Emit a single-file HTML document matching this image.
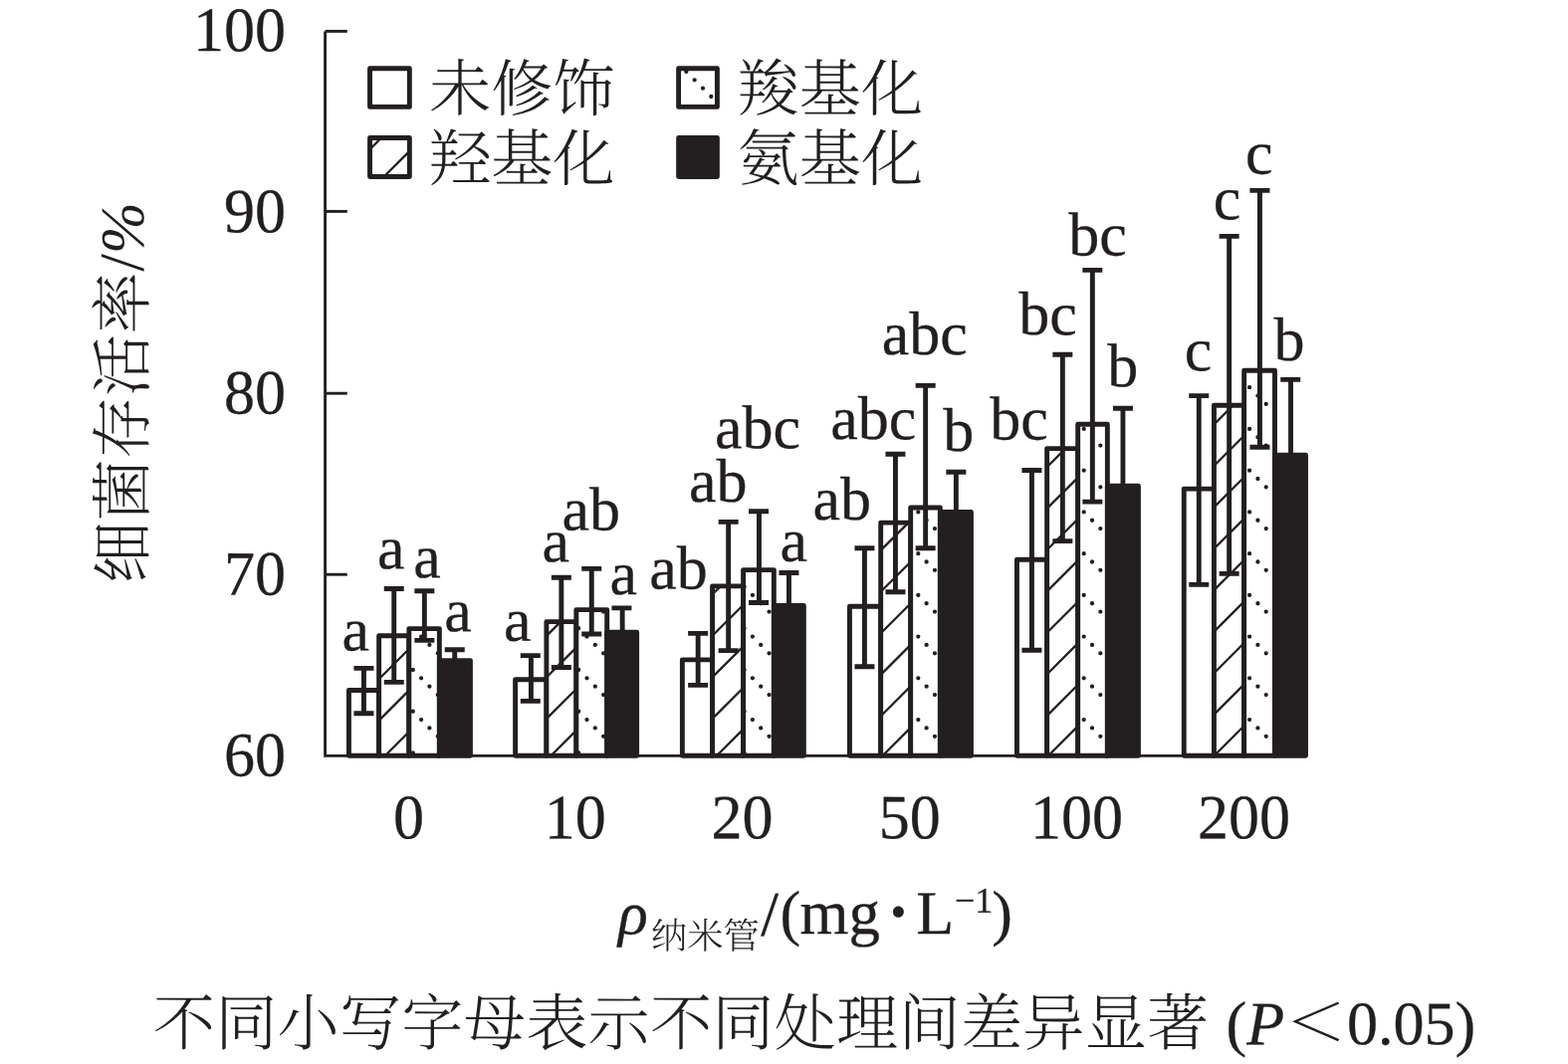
<!DOCTYPE html>
<html lang="zh-CN">
<head>
<meta charset="utf-8">
<title>细菌存活率</title>
<style>
html,body{margin:0;padding:0;background:#fff;}
body{width:1575px;height:1069px;overflow:hidden;font-family:'Liberation Serif','Noto Serif CJK SC',serif;}
svg{display:block;}
text{text-rendering:geometricPrecision;}
</style>
</head>
<body>
<svg width="1575" height="1069" viewBox="0 0 1575 1069" role="img" aria-label="细菌存活率柱状图">
<rect width="1575" height="1069" fill="#fff"/>
<g stroke="#231f20" stroke-width="2.9" fill="none">
<path d="M326.6 31.4V759.4H1313"/>
<path d="M326.6 31.4H348.8"/>
<path d="M326.6 212.4H348.8"/>
<path d="M326.6 395.2H348.8"/>
<path d="M326.6 577.2H348.8"/>
</g>
<rect x="350.45" y="693.5" width="30.2" height="65.8" fill="#fff" stroke="#231f20" stroke-width="4.9" stroke-linejoin="round"/>
<rect x="380.65" y="638.8" width="30.2" height="120.5" fill="#fff"/>
<path d="M380.65 640.57L382.42 638.8M380.65 682.21L410.85 652.01M380.65 723.85L410.85 693.65M386.84 759.3L410.85 735.29" stroke="#231f20" stroke-width="2.3" fill="none"/>
<rect x="380.65" y="638.8" width="30.2" height="120.5" fill="none" stroke="#231f20" stroke-width="4.9" stroke-linejoin="round"/>
<rect x="410.85" y="631.6" width="30.5" height="127.7" fill="#fff"/>
<path d="M414.78 673.01h0M414.78 714.75h0M414.78 756.49h0M423.1 639.62h0M423.1 681.36h0M423.1 723.1h0M431.42 647.97h0M431.42 689.71h0M431.42 731.45h0M439.74 656.32h0M439.74 698.06h0M439.74 739.8h0" stroke="#231f20" stroke-width="4.3" stroke-linecap="round" fill="none"/>
<rect x="410.85" y="631.6" width="30.5" height="127.7" fill="none" stroke="#231f20" stroke-width="4.9" stroke-linejoin="round"/>
<rect x="441.35" y="663.6" width="31.1" height="95.7" fill="#231f20" stroke="#231f20" stroke-width="4.9" stroke-linejoin="round"/>
<rect x="517.6" y="682.7" width="31.3" height="76.6" fill="#fff" stroke="#231f20" stroke-width="4.9" stroke-linejoin="round"/>
<rect x="548.9" y="624.6" width="29.95" height="134.7" fill="#fff"/>
<path d="M548.9 638.88L563.18 624.6M548.9 680.52L578.85 650.57M548.9 722.16L578.85 692.21M553.4 759.3L578.85 733.85" stroke="#231f20" stroke-width="2.3" fill="none"/>
<rect x="548.9" y="624.6" width="29.95" height="134.7" fill="none" stroke="#231f20" stroke-width="4.9" stroke-linejoin="round"/>
<rect x="578.85" y="612.6" width="30.85" height="146.7" fill="#fff"/>
<path d="M581.18 631.27h0M581.18 673.01h0M581.18 714.75h0M581.18 756.49h0M589.5 639.62h0M589.5 681.36h0M589.5 723.1h0M597.82 647.97h0M597.82 689.71h0M597.82 731.45h0M606.14 614.58h0M606.14 656.32h0M606.14 698.06h0M606.14 739.8h0" stroke="#231f20" stroke-width="4.3" stroke-linecap="round" fill="none"/>
<rect x="578.85" y="612.6" width="30.85" height="146.7" fill="none" stroke="#231f20" stroke-width="4.9" stroke-linejoin="round"/>
<rect x="609.7" y="635.3" width="29.95" height="124" fill="#231f20" stroke="#231f20" stroke-width="4.9" stroke-linejoin="round"/>
<rect x="685.35" y="662.9" width="30.2" height="96.4" fill="#fff" stroke="#231f20" stroke-width="4.9" stroke-linejoin="round"/>
<rect x="715.55" y="588.9" width="31.05" height="170.4" fill="#fff"/>
<path d="M715.55 597.15L723.8 588.9M715.55 638.79L746.6 607.74M715.55 680.43L746.6 649.38M715.55 722.07L746.6 691.02M719.96 759.3L746.6 732.66" stroke="#231f20" stroke-width="2.3" fill="none"/>
<rect x="715.55" y="588.9" width="31.05" height="170.4" fill="none" stroke="#231f20" stroke-width="4.9" stroke-linejoin="round"/>
<rect x="746.6" y="572.6" width="30.75" height="186.7" fill="#fff"/>
<path d="M747.58 589.53h0M747.58 631.27h0M747.58 673.01h0M747.58 714.75h0M747.58 756.49h0M755.9 597.88h0M755.9 639.62h0M755.9 681.36h0M755.9 723.1h0M764.22 606.23h0M764.22 647.97h0M764.22 689.71h0M764.22 731.45h0M772.54 572.84h0M772.54 614.58h0M772.54 656.32h0M772.54 698.06h0M772.54 739.8h0" stroke="#231f20" stroke-width="4.3" stroke-linecap="round" fill="none"/>
<rect x="746.6" y="572.6" width="30.75" height="186.7" fill="none" stroke="#231f20" stroke-width="4.9" stroke-linejoin="round"/>
<rect x="777.35" y="608.4" width="30" height="150.9" fill="#231f20" stroke="#231f20" stroke-width="4.9" stroke-linejoin="round"/>
<rect x="853.45" y="609.3" width="31.25" height="150" fill="#fff" stroke="#231f20" stroke-width="4.9" stroke-linejoin="round"/>
<rect x="884.7" y="525.1" width="30" height="234.2" fill="#fff"/>
<path d="M884.7 552.92L912.52 525.1M884.7 594.56L914.7 564.56M884.7 636.2L914.7 606.2M884.7 677.84L914.7 647.84M884.7 719.48L914.7 689.48M886.52 759.3L914.7 731.12" stroke="#231f20" stroke-width="2.3" fill="none"/>
<rect x="884.7" y="525.1" width="30" height="234.2" fill="none" stroke="#231f20" stroke-width="4.9" stroke-linejoin="round"/>
<rect x="914.7" y="510" width="29.65" height="249.3" fill="#fff"/>
<path d="M922.3 514.4h0M922.3 556.14h0M922.3 597.88h0M922.3 639.62h0M922.3 681.36h0M922.3 723.1h0M930.62 522.75h0M930.62 564.49h0M930.62 606.23h0M930.62 647.97h0M930.62 689.71h0M930.62 731.45h0M938.94 531.1h0M938.94 572.84h0M938.94 614.58h0M938.94 656.32h0M938.94 698.06h0M938.94 739.8h0" stroke="#231f20" stroke-width="4.3" stroke-linecap="round" fill="none"/>
<rect x="914.7" y="510" width="29.65" height="249.3" fill="none" stroke="#231f20" stroke-width="4.9" stroke-linejoin="round"/>
<rect x="944.35" y="514.4" width="31.1" height="244.9" fill="#231f20" stroke="#231f20" stroke-width="4.9" stroke-linejoin="round"/>
<rect x="1021.45" y="562.2" width="30.2" height="197.1" fill="#fff" stroke="#231f20" stroke-width="4.9" stroke-linejoin="round"/>
<rect x="1051.65" y="450.6" width="31.05" height="308.7" fill="#fff"/>
<path d="M1051.65 469.25L1070.3 450.6M1051.65 510.89L1082.7 479.84M1051.65 552.53L1082.7 521.48M1051.65 594.17L1082.7 563.12M1051.65 635.81L1082.7 604.76M1051.65 677.45L1082.7 646.4M1051.65 719.09L1082.7 688.04M1053.08 759.3L1082.7 729.68" stroke="#231f20" stroke-width="2.3" fill="none"/>
<rect x="1051.65" y="450.6" width="31.05" height="308.7" fill="none" stroke="#231f20" stroke-width="4.9" stroke-linejoin="round"/>
<rect x="1082.7" y="426.2" width="29.65" height="333.1" fill="#fff"/>
<path d="M1088.7 430.92h0M1088.7 472.66h0M1088.7 514.4h0M1088.7 556.14h0M1088.7 597.88h0M1088.7 639.62h0M1088.7 681.36h0M1088.7 723.1h0M1097.02 439.27h0M1097.02 481.01h0M1097.02 522.75h0M1097.02 564.49h0M1097.02 606.23h0M1097.02 647.97h0M1097.02 689.71h0M1097.02 731.45h0M1105.34 447.62h0M1105.34 489.36h0M1105.34 531.1h0M1105.34 572.84h0M1105.34 614.58h0M1105.34 656.32h0M1105.34 698.06h0M1105.34 739.8h0" stroke="#231f20" stroke-width="4.3" stroke-linecap="round" fill="none"/>
<rect x="1082.7" y="426.2" width="29.65" height="333.1" fill="none" stroke="#231f20" stroke-width="4.9" stroke-linejoin="round"/>
<rect x="1112.35" y="488.2" width="31.1" height="271.1" fill="#231f20" stroke="#231f20" stroke-width="4.9" stroke-linejoin="round"/>
<rect x="1189.25" y="491.1" width="30.2" height="268.2" fill="#fff" stroke="#231f20" stroke-width="4.9" stroke-linejoin="round"/>
<rect x="1219.45" y="407.3" width="30.2" height="352" fill="#fff"/>
<path d="M1219.45 426.37L1238.52 407.3M1219.45 468.01L1249.65 437.81M1219.45 509.65L1249.65 479.45M1219.45 551.29L1249.65 521.09M1219.45 592.93L1249.65 562.73M1219.45 634.57L1249.65 604.37M1219.45 676.21L1249.65 646.01M1219.45 717.85L1249.65 687.65M1219.64 759.3L1249.65 729.29" stroke="#231f20" stroke-width="2.3" fill="none"/>
<rect x="1219.45" y="407.3" width="30.2" height="352" fill="none" stroke="#231f20" stroke-width="4.9" stroke-linejoin="round"/>
<rect x="1249.65" y="372.2" width="30.85" height="387.1" fill="#fff"/>
<path d="M1255.1 389.18h0M1255.1 430.92h0M1255.1 472.66h0M1255.1 514.4h0M1255.1 556.14h0M1255.1 597.88h0M1255.1 639.62h0M1255.1 681.36h0M1255.1 723.1h0M1263.42 397.53h0M1263.42 439.27h0M1263.42 481.01h0M1263.42 522.75h0M1263.42 564.49h0M1263.42 606.23h0M1263.42 647.97h0M1263.42 689.71h0M1263.42 731.45h0M1271.74 405.88h0M1271.74 447.62h0M1271.74 489.36h0M1271.74 531.1h0M1271.74 572.84h0M1271.74 614.58h0M1271.74 656.32h0M1271.74 698.06h0M1271.74 739.8h0M1280.06 372.48h0M1280.06 414.22h0M1280.06 455.96h0M1280.06 497.7h0M1280.06 539.44h0M1280.06 581.18h0M1280.06 622.92h0M1280.06 664.66h0M1280.06 706.4h0M1280.06 748.14h0" stroke="#231f20" stroke-width="4.3" stroke-linecap="round" fill="none"/>
<rect x="1249.65" y="372.2" width="30.85" height="387.1" fill="none" stroke="#231f20" stroke-width="4.9" stroke-linejoin="round"/>
<rect x="1280.5" y="457.3" width="31.05" height="302" fill="#231f20" stroke="#231f20" stroke-width="4.9" stroke-linejoin="round"/>
<g stroke="#231f20" stroke-width="4.9" fill="none">
<path d="M355.45 671.4H375.45M365.45 671.4V716.7M355.45 716.7H375.45"/>
<path d="M385.75 591.5H405.75M395.75 591.5V685.4M385.75 685.4H405.75"/>
<path d="M416.35 593.7H436.35M426.35 593.7V643.4M416.35 643.4H436.35"/>
<path d="M446.75 652.7H466.75M456.75 652.7V674.5M446.75 674.5H466.75"/>
<path d="M522.8 658.6H542.8M533.4 658.6V704.4M522.8 704.4H542.8"/>
<path d="M553.85 580.2H573.85M563.85 580.2V670.5M553.85 670.5H573.85"/>
<path d="M584.25 571.4H604.25M594.25 571.4V637M584.25 637H604.25"/>
<path d="M614.45 610.9H634.45M625.15 610.9V660M614.45 660H634.45"/>
<path d="M691.15 636.4H711.15M701.15 636.4V688.4M691.15 688.4H711.15"/>
<path d="M721.65 524.4H741.65M731.65 524.4V653.6M721.65 653.6H741.65"/>
<path d="M752.05 513.7H772.05M762.45 513.7V605.5M752.05 605.5H772.05"/>
<path d="M782.45 575.5H802.45M792.45 575.5V641M782.45 641H802.45"/>
<path d="M858.45 550.8H878.45M868.45 550.8V669.7M858.45 669.7H878.45"/>
<path d="M889.45 456.3H909.45M899.45 456.3V594.7M889.45 594.7H909.45"/>
<path d="M919.65 387.4H939.65M929.65 387.4V550.8M919.65 550.8H939.65"/>
<path d="M950.35 474.3H970.35M960.35 474.3V555M950.35 555H970.35"/>
<path d="M1026.45 472.5H1046.45M1036.45 472.5V653.2M1026.45 653.2H1046.45"/>
<path d="M1057.35 356.3H1077.35M1067.35 356.3V543.6M1057.35 543.6H1077.35"/>
<path d="M1087.35 271.4H1107.35M1097.35 271.4V504.1M1087.35 504.1H1107.35"/>
<path d="M1117.95 410.3H1137.95M1127.95 410.3V566M1117.95 566H1137.95"/>
<path d="M1194.25 397.6H1214.25M1204.25 397.6V587.4M1194.25 587.4H1214.25"/>
<path d="M1224.65 237.4H1244.65M1234.65 237.4V576.4M1224.65 576.4H1244.65"/>
<path d="M1255.45 191.4H1275.45M1265.45 191.4V449.2M1255.45 449.2H1275.45"/>
<path d="M1286.25 381.4H1306.25M1296.55 381.4V533M1286.25 533H1306.25"/>
</g>
<rect x="371.55" y="68.7" width="39.8" height="38.7" fill="#fff" stroke="#231f20" stroke-width="4.9" stroke-linejoin="round"/>
<rect x="371.55" y="138.5" width="39.8" height="39" fill="#fff"/>
<path d="M371.55 149.99L383.04 138.5M385.68 177.5L411.35 151.83" stroke="#231f20" stroke-width="2.3" fill="none"/>
<rect x="371.55" y="138.5" width="39.8" height="39" fill="none" stroke="#231f20" stroke-width="4.9" stroke-linejoin="round"/>
<rect x="681.6" y="68.7" width="38.8" height="38.7" fill="#fff"/>
<path d="M689.34 71.96h0M697.66 80.3h0M705.98 88.65h0M714.3 97h0" stroke="#231f20" stroke-width="4.3" stroke-linecap="round" fill="none"/>
<rect x="681.6" y="68.7" width="38.8" height="38.7" fill="none" stroke="#231f20" stroke-width="4.9" stroke-linejoin="round"/>
<rect x="681.6" y="138.5" width="38.8" height="39" fill="#231f20" stroke="#231f20" stroke-width="4.9" stroke-linejoin="round"/>
<g fill="#231f20" font-family="'Liberation Serif','Noto Serif CJK SC',serif" font-size="62" stroke="#231f20" stroke-width="0.3" stroke-linejoin="round">
<text transform="translate(287 51.2) rotate(0.05) scale(1 1.02)" text-anchor="end">100</text>
<text transform="translate(287 233.2) rotate(0.05) scale(1 1.02)" text-anchor="end">90</text>
<text transform="translate(287 415.5) rotate(0.05) scale(1 1.02)" text-anchor="end">80</text>
<text transform="translate(287 597.5) rotate(0.05) scale(1 1.02)" text-anchor="end">70</text>
<text transform="translate(287 779.6) rotate(0.05) scale(1 1.02)" text-anchor="end">60</text>
<text transform="translate(410.4 842.2) rotate(0.05) scale(1 1.02)" text-anchor="middle">0</text>
<text transform="translate(577.7 842.2) rotate(0.05) scale(1 1.02)" text-anchor="middle">10</text>
<text transform="translate(745.6 842.2) rotate(0.05) scale(1 1.02)" text-anchor="middle">20</text>
<text transform="translate(913.7 842.2) rotate(0.05) scale(1 1.02)" text-anchor="middle">50</text>
<text transform="translate(1081.4 842.2) rotate(0.05) scale(1 1.02)" text-anchor="middle">100</text>
<text transform="translate(1249.4 842.2) rotate(0.05) scale(1 1.02)" text-anchor="middle">200</text>
<text transform="translate(343.5 653.5) rotate(0.05)">a</text>
<text transform="translate(379 571.2) rotate(0.05)">a</text>
<text transform="translate(415.2 580.3) rotate(0.05)">a</text>
<text transform="translate(446.3 634.2) rotate(0.05)">a</text>
<text transform="translate(506 643.7) rotate(0.05)">a</text>
<text transform="translate(544.4 564.3) rotate(0.05)">a</text>
<text transform="translate(564.4 532.4) rotate(0.05)">ab</text>
<text transform="translate(612.5 597) rotate(0.05)">a</text>
<text transform="translate(652.3 591.6) rotate(0.05)">ab</text>
<text transform="translate(692.1 504) rotate(0.05)">ab</text>
<text transform="translate(718 450.3) rotate(0.05)">abc</text>
<text transform="translate(783.4 563.8) rotate(0.05)">a</text>
<text transform="translate(816.4 522) rotate(0.05)">ab</text>
<text transform="translate(834.3 441.1) rotate(0.05)">abc</text>
<text transform="translate(885.75 356) rotate(0.05)">abc</text>
<text transform="translate(947.3 452.9) rotate(0.05)">b</text>
<text transform="translate(994.2 441.4) rotate(0.05)">bc</text>
<text transform="translate(1023.3 336.1) rotate(0.05)">bc</text>
<text transform="translate(1073.3 256.5) rotate(0.05)">bc</text>
<text transform="translate(1112.2 388.2) rotate(0.05)">b</text>
<text transform="translate(1189.8 372.3) rotate(0.05)">c</text>
<text transform="translate(1218.7 220.2) rotate(0.05)">c</text>
<text transform="translate(1250.9 174.4) rotate(0.05)">c</text>
<text transform="translate(1279.6 362) rotate(0.05)">b</text>
</g>
<g fill="#231f20" font-family="'Noto Serif CJK SC','Liberation Serif',serif" font-size="62.2" font-weight="300">
<text transform="translate(431 111.1) rotate(0.05)">未修饰</text>
<text transform="translate(431 181.3) rotate(0.05)">羟基化</text>
<text transform="translate(740.6 111.1) rotate(0.05)">羧基化</text>
<text transform="translate(740.6 181.3) rotate(0.05)">氨基化</text>
<text transform="translate(145 586) rotate(-90)"><tspan letter-spacing="0.45">细菌存活率</tspan><tspan font-family="'Liberation Serif','Noto Serif CJK SC',serif" font-weight="400" font-size="64" dy="-1.2">/</tspan><tspan font-family="'Liberation Serif','Noto Serif CJK SC',serif" font-weight="400" font-style="italic">%</tspan></text>
<text transform="translate(153.8 1049.8) rotate(0.05)" letter-spacing="0.2"><tspan>不同小写</tspan><tspan dy="-0.218">字母表示</tspan><tspan dy="-0.218">不同处理</tspan><tspan dy="-0.218">间差异显</tspan><tspan dy="-0.218">著</tspan></text>
</g>
<g fill="#231f20" font-family="'Liberation Serif','Noto Serif CJK SC',serif" font-size="62" stroke="#231f20" stroke-width="0.3" stroke-linejoin="round">
<text transform="translate(1231.6 1049.2) rotate(0.05)"> (<tspan font-style="italic">P</tspan></text>
<text transform="translate(1290.5 1045.6) rotate(0.05) scale(1 0.84)" font-family="'Noto Serif CJK SC','Liberation Serif',serif" font-weight="500" font-size="62.2" stroke="none">＜</text>
<text transform="translate(1352.9 1049.2) rotate(0.05)">0.05)</text>
</g>
<g fill="#231f20" font-family="'Liberation Serif','Noto Serif CJK SC',serif" font-size="62" stroke="#231f20" stroke-width="0.3" stroke-linejoin="round">
<text transform="translate(621 938.5) rotate(0.05)" font-style="italic">ρ</text>
<text transform="translate(654 953) rotate(0.05)" font-family="'Noto Serif CJK SC','Liberation Serif',serif" font-size="36.3" font-weight="300" stroke="none">纳米管</text>
<text transform="translate(764.3 939.7) rotate(0.05)" font-size="63.6">/</text>
<text transform="translate(783.5 937.9) rotate(0.05)">(</text>
<text transform="translate(803.5 937.9) rotate(0.05)" font-size="63">mg</text>
<text transform="translate(887 946.4) rotate(0.05)" font-size="92">·</text>
<text transform="translate(920.3 937.9) rotate(0.05)">L</text>
<text transform="translate(959 916.7) rotate(0.05)" font-size="36">−1</text>
<text transform="translate(996.3 937.9) rotate(0.05)">)</text>
</g>
</svg>
</body>
</html>
